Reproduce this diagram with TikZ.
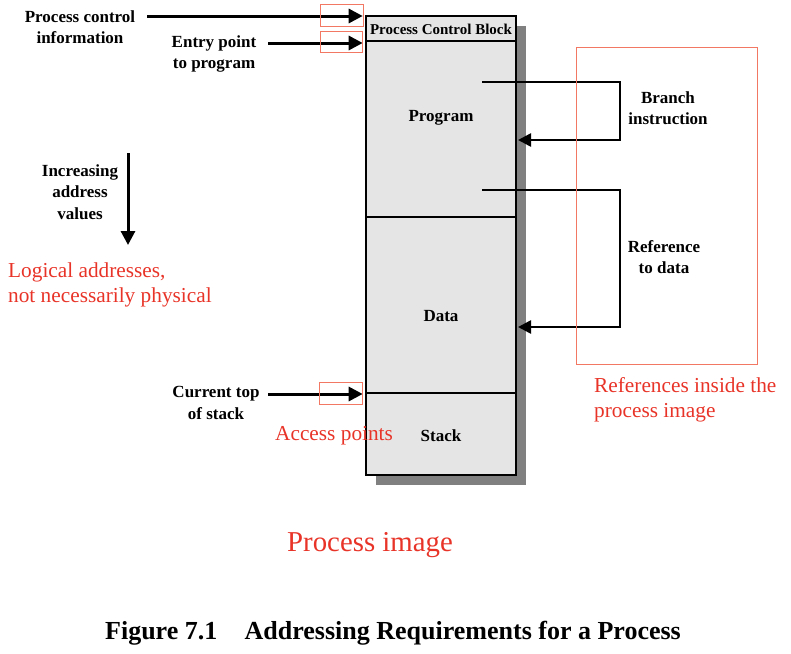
\documentclass[tikz,border=0pt]{standalone}
\usepackage{fontspec}
\setmainfont{Liberation Serif}
\usepackage{tikz}
\usetikzlibrary{arrows.meta}

\definecolor{boxgray}{RGB}{229,229,229}
\definecolor{shadowgray}{RGB}{128,128,128}
\definecolor{notered}{RGB}{232,52,40}
\definecolor{framered}{RGB}{242,120,100}

\tikzset{
    section/.style={draw, line width=2.6pt, fill=boxgray, minimum width=150pt, inner sep=0pt},
    lbl/.style={font=\fontsize{17}{21.5}\selectfont\bfseries, align=center, inner sep=0pt},
    note/.style={font=\fontsize{21.3}{25}\selectfont, text=notered, align=left, inner sep=0pt},
    pointer/.style={line width=3pt, -{Triangle[length=14pt,width=14pt]}},
    jump/.style={line width=2.6pt, -{Triangle[length=13pt,width=13pt]}},
    redframe/.style={draw=framered, line width=0.9pt},
}

\begin{document}
\begin{tikzpicture}[x=1pt, y=-1pt]
    \useasboundingbox (0,0) rectangle (791,653);

    %Shadow of the process image
    \fill[shadowgray] (376,26) rectangle (526,485);

    %Process image sections
    \node[section, minimum height=25pt]  (pcb)  at (441,28.5) {};
    \node[section, minimum height=176pt] (prog) at (441,129) {};
    \node[section, minimum height=176pt] (data) at (441,305) {};
    \node[section, minimum height=82pt]  (stk)  at (441,434) {};

    %Section texts
    \node[lbl, font=\fontsize{15}{16}\selectfont\bfseries] at (441,29) {Process Control Block};
    \node[lbl] at (441,118) {Program};
    \node[lbl] at (441,316) {Data};
    \node[lbl] at (441,436) {Stack};

    %Access points
    \coordinate (pci) at (147,16);
    \coordinate (ept) at (268,43);
    \coordinate (tos) at (268,394);
    \draw[pointer, shorten >=2pt] (pci) -- (pci -| pcb.west);
    \draw[pointer, shorten >=2pt] (ept) -- (ept -| pcb.west);
    \draw[pointer, shorten >=2pt] (tos) -- (tos -| stk.west);

    \node[lbl] (pcitext) at (80,27)  {Process control\\information};
    \node[lbl] (epttext) at (214,54) {Entry point\\to program};
    \node[lbl] (tostext) at (216,403) {Current top\\of stack};

    %Increasing address values
    \coordinate (inctop) at (128,153);
    \coordinate (incbot) at (128,245);
    \draw[pointer] (inctop) -- (incbot);
    \node[lbl] (inctext) at (80,192) {Increasing\\address\\values};

    %Branch instruction
    \coordinate (brfrom) at (482,82);
    \coordinate (brto)   at (518,140);
    \draw[jump] (brfrom) -- (620,82) |- (brto);
    \node[lbl] (brtext) at (668,108) {Branch\\instruction};

    %Reference to data
    \coordinate (reffrom) at (482,190);
    \coordinate (refto)   at (518,327);
    \draw[jump] (reffrom) -- (620,190) |- (refto);
    \node[lbl] (reftext) at (664,257) {Reference\\to data};

    %Red marks
    \draw[redframe] (320,4)   rectangle (363,26);
    \draw[redframe] (320,31)  rectangle (362,52);
    \draw[redframe] (319,382) rectangle (362,404);
    \draw[redframe] (576,47)  rectangle (757,364);

    %Red notes
    \node[note, anchor=west] (logical) at (8,285) {Logical addresses,\\not necessarily physical};
    \node[note, anchor=west] (inside)  at (594,400) {References inside the\\process image};
    \node[note, anchor=west] (access)  at (275,436) {Access points};
    \node[note, font=\fontsize{28.8}{32}\selectfont] (image) at (370,545) {Process image};

    %Caption
    \node[font=\fontsize{26}{30}\selectfont\bfseries, inner sep=0pt] (caption) at (393,633)
        {Figure 7.1\hspace{0.8em} Addressing Requirements for a Process};
\end{tikzpicture}
\end{document}
